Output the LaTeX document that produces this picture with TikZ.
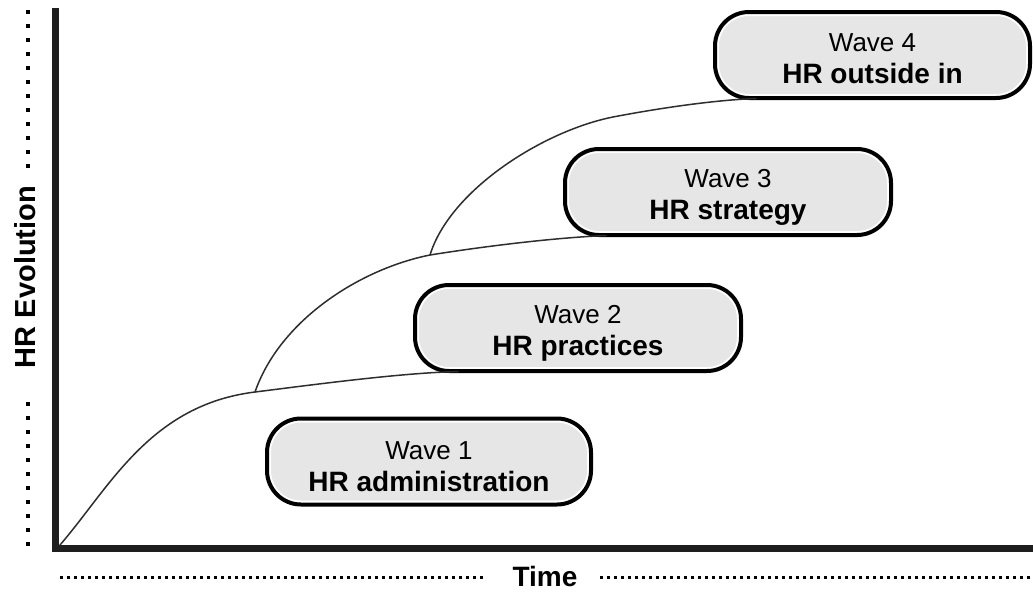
\documentclass[tikz,border=0pt]{standalone}
\usepackage{fontspec}
\setmainfont{Liberation Sans}
\definecolor{boxgray}{HTML}{E6E6E6}
\definecolor{curvecol}{HTML}{2E2E2E}
\definecolor{axiscol}{HTML}{1E1E1E}
\newcommand{\wavelineA}[1]{{\fontsize{26}{32}\selectfont #1}}
\newcommand{\wavelineB}[1]{{\fontsize{28}{32}\selectfont\bfseries #1}}
\begin{document}
\begin{tikzpicture}[x=1pt,y=-1pt,
  wavebox/.style={rectangle, rounded corners=32pt, fill=boxgray, draw=white,
    line width=4pt, outer sep=2pt, inner sep=0pt, minimum height=82pt},
  wavetext/.style={align=center, inner sep=0pt, font=\fontsize{26}{32}\selectfont},
  waveframe/.style={draw=black, line width=4pt, rounded corners=34pt},
  curveline/.style={draw=curvecol, line width=1.5pt, line cap=round},
  axisline/.style={draw=axiscol, line width=6.5pt, line join=miter},
  vdots/.style={draw=black, line width=3.5pt, dash pattern=on 4pt off 10pt},
  hdots/.style={draw=black, line width=3pt, dash pattern=on 2.5pt off 4.5pt},
  axislabel/.style={font=\fontsize{29}{32}\selectfont\bfseries, inner sep=0pt}
]
\fill[white] (0,0) rectangle (1033,592);
\useasboundingbox (0,0) rectangle (1033,592);

% axes
\coordinate (ytop) at (55.5,8);
\coordinate (O) at (55.5,548.5);
\coordinate (xend) at (1036,548.5);
\draw[axisline] (ytop) -- (O) -- (xend);

% boxes
\node[wavebox, minimum width=320pt] (w1) at (429,461.5) {};
\node[wavebox, minimum width=322pt] (w2) at (578,328) {};
\node[wavebox, minimum width=322pt] (w3) at (728,192) {};
\node[wavebox, minimum width=311pt] (w4) at (872.5,55) {};
\foreach \w in {w1,w2,w3,w4}
  \draw[waveframe] (\w.south west) rectangle (\w.north east);
\node[wavetext] (t1) at ([yshift=-5pt]w1.center)
  {\wavelineA{Wave 1}\\\wavelineB{HR administration}};
\node[wavetext] (t2) at ([yshift=-5pt]w2.center)
  {\wavelineA{Wave 2}\\\wavelineB{HR practices}};
\node[wavetext] (t3) at ([yshift=-5pt]w3.center)
  {\wavelineA{Wave 3}\\\wavelineB{HR strategy}};
\node[wavetext] (t4) at ([yshift=-4pt]w4.center)
  {\wavelineA{Wave 4}\\\wavelineB{HR outside in}};

% curves
\coordinate (s1) at (60,545);
\coordinate (j1) at (255,392);
\coordinate (j2) at (430,255);
\coordinate (k2) at (613,117);
\coordinate (e1) at (458,371.5);
\coordinate (e2) at (606,235.5);
\coordinate (e3) at (756,98.5);
\draw[curveline] (s1) .. controls (110,487) and (150,405) .. (j1)
  .. controls (315,384.5) and (400,373) .. (e1);
\draw[curveline] (j1) .. controls (280,320) and (360,269) .. (j2)
  .. controls (480,247) and (550,238) .. (e2);
\draw[curveline] (j2) .. controls (450,190) and (543,131) .. (k2)
  .. controls (660,108) and (715,100) .. (e3);

% axis labels
\coordinate (vd1) at (28,10);
\coordinate (vd2) at (28,172);
\coordinate (vd3) at (28,402);
\coordinate (vd4) at (28,548);
\draw[vdots] (vd1) -- (vd2);
\draw[vdots] (vd3) -- (vd4);
\node[axislabel, rotate=90] (ylab) at (25,277) {HR Evolution};

\coordinate (hd1) at (60,577);
\coordinate (hd2) at (487,577);
\coordinate (hd3) at (600,577);
\coordinate (hd4) at (1033,577);
\draw[hdots] (hd1) -- (hd2);
\draw[hdots] (hd3) -- (hd4);
\node[font=\fontsize{28}{32}\selectfont\bfseries, inner sep=0pt] (xlab) at (545,576) {Time};
\end{tikzpicture}
\end{document}
